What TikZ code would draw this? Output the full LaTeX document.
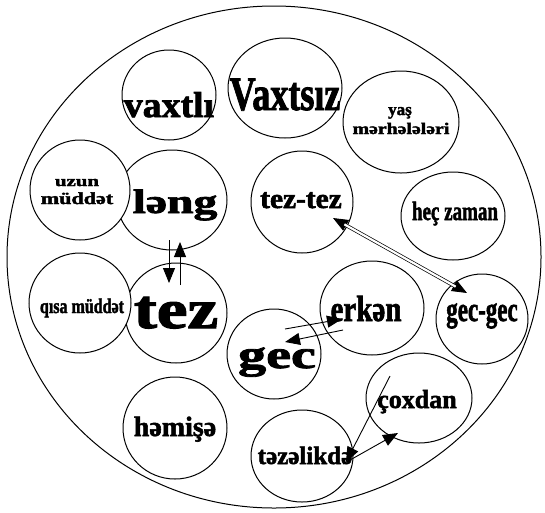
\documentclass[tikz,border=0pt]{standalone}
\usepackage{fontspec}
\setmainfont{Liberation Serif}[BoldFeatures={FakeBold=2}]
\usetikzlibrary{arrows.meta,shapes.geometric}
\newcommand{\yaz}[3]{\scalebox{#1}[#2]{#3}}
\tikzset{
  daire/.style={draw,ellipse,line width=1pt,fill=white,inner sep=0pt,outer sep=0pt},
  yazi/.style={anchor=base,inner sep=0pt,font=\bfseries},
  ox/.style={-{Triangle[length=15pt,width=12pt]},line width=0.9pt},
  ikiox/.style={{Triangle[length=15pt,width=12pt]}-{Triangle[length=15pt,width=12pt]},line width=0.9pt},
  qosa/.style={double,double distance=2.2pt,line width=0.7pt,shorten <=13pt,shorten >=13pt},
}
\begin{document}
\begin{tikzpicture}[x=1pt,y=-1pt]
  \useasboundingbox (0,0) rectangle (545,512);
  % boyuk ellips
  \node[draw,ellipse,line width=1pt,minimum width=534pt,minimum height=502pt,inner sep=0pt] (hamisi) at (274,257) {};
  % dairələr
  \node[daire,minimum width=94pt,minimum height=90pt] (vaxtli) at (169,95) {};
  \node[daire,minimum width=114pt,minimum height=100pt] (vaxtsiz) at (285,88) {};
  \node[daire,minimum width=116pt,minimum height=102pt] (yas) at (401,122) {};
  \node[daire,minimum width=110pt,minimum height=100pt] (leng) at (172,200) {};
  \node[daire,minimum width=100pt,minimum height=100pt] (uzun) at (80,190) {};
  \node[daire,minimum width=102pt,minimum height=102pt] (teztez) at (302,202) {};
  \node[daire,minimum width=104pt,minimum height=88pt] (hec) at (453,216) {};
  \node[daire,minimum width=102pt,minimum height=100pt] (tez) at (176,313) {};
  \node[daire,minimum width=102pt,minimum height=100pt] (qisa) at (80,303) {};
  \node[daire,minimum width=104pt,minimum height=94pt] (erken) at (372,308) {};
  \node[daire,minimum width=92pt,minimum height=90pt] (gecgec) at (482,319) {};
  \node[daire,minimum width=94pt,minimum height=90pt] (gec) at (274,354) {};
  \node[daire,minimum width=106pt,minimum height=90pt] (coxdan) at (419,398) {};
  \node[daire,minimum width=104pt,minimum height=102pt] (hemise) at (175,428) {};
  \node[daire,minimum width=102pt,minimum height=92pt] (tezelik) at (302,456) {};
  % yazılar
  \node[yazi,font=\bfseries\fontsize{36}{36}\selectfont] (vaxtli-t) at (169,117) {\yaz{1.05}{1}{vaxtlı}};
  \node[yazi,font=\bfseries\fontsize{36}{36}\selectfont] (vaxtsiz-t) at (285,110) {\yaz{1}{1.33}{Vaxtsız}};
  \node[yazi,font=\bfseries\fontsize{17}{17}\selectfont] (yas-t1) at (400,115) {yaş};
  \node[yazi,font=\bfseries\fontsize{18}{18}\selectfont] (yas-t2) at (401,134) {\yaz{1.1}{0.9}{mərhələləri}};
  \node[yazi,font=\bfseries\fontsize{19}{19}\selectfont] (uzun-t1) at (77,186) {\yaz{1.1}{0.8}{uzun}};
  \node[yazi,font=\bfseries\fontsize{21}{21}\selectfont] (uzun-t2) at (77,204) {\yaz{1.05}{0.8}{müddət}};
  \node[yazi,font=\bfseries\fontsize{34}{34}\selectfont] (leng-t) at (175,213) {\yaz{1.4}{1}{ləng}};
  \node[yazi,font=\bfseries\fontsize{28}{28}\selectfont] (teztez-t) at (301,208) {\yaz{1.05}{1}{tez-tez}};
  \node[yazi,font=\bfseries\fontsize{19}{19}\selectfont] (hec-t) at (455,220) {\yaz{1}{1.4}{heç zaman}};
  \node[yazi,font=\bfseries\fontsize{16}{16}\selectfont] (qisa-t) at (82,313) {\yaz{1}{1.3}{qısa müddət}};
  \node[yazi,font=\bfseries\fontsize{46}{46}\selectfont] (tez-t) at (176,328) {\yaz{1.5}{1.2}{tez}};
  \node[yazi,font=\bfseries\fontsize{40}{40}\selectfont] (gec-t) at (277,368) {\yaz{1.4}{1}{gec}};
  \node[yazi,font=\bfseries\fontsize{29}{29}\selectfont] (erken-t) at (366,321) {\yaz{1}{1.25}{erkən}};
  \node[yazi,font=\bfseries\fontsize{23}{23}\selectfont] (gecgec-t) at (482,321) {\yaz{1}{1.5}{gec-gec}};
  \node[yazi,font=\bfseries\fontsize{26}{26}\selectfont] (coxdan-t) at (417,408) {çoxdan};
  \node[yazi,font=\bfseries\fontsize{28}{28}\selectfont] (hemise-t) at (175,436) {həmişə};
  \node[yazi,font=\bfseries\fontsize{25}{25}\selectfont] (tezelik-t) at (305,464) {təzəlikdə};
  % oxlar
  \draw[ox] ([xshift=-3pt,yshift=10pt]leng.south) -- ([xshift=-7pt,yshift=-20pt]tez.north);
  \draw[ox] ([xshift=4pt,yshift=-22pt]tez.north) -- ([xshift=8pt,yshift=8pt]leng.south);
  \draw[ikiox] ([xshift=31pt,yshift=-16pt]teztez.center) -- ([xshift=-15pt,yshift=26pt]gecgec.center);
  \draw[qosa] ([xshift=31pt,yshift=-16pt]teztez.center) -- ([xshift=-15pt,yshift=26pt]gecgec.center);
  \draw[ox] ([xshift=11pt,yshift=25pt]gec.center) -- ([xshift=-30pt,yshift=-11pt]erken.center);
  \draw[ox] ([xshift=-29pt,yshift=-22pt]erken.center) -- ([xshift=11pt,yshift=12pt]gec.center);
  \draw[ox] ([xshift=-29pt,yshift=22pt]coxdan.center) -- ([xshift=44pt,yshift=-6pt]tezelik.center);
  \draw[ox] ([xshift=41pt,yshift=-8pt]tezelik.center) -- ([xshift=-21pt,yshift=-35pt]coxdan.center);
\end{tikzpicture}
\end{document}
